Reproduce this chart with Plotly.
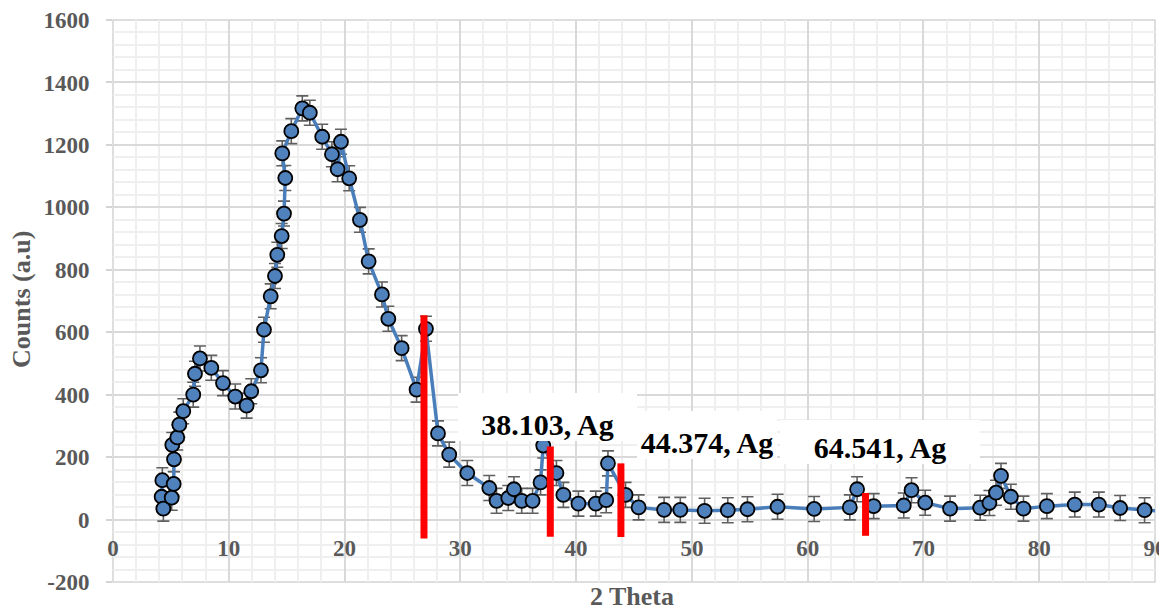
import plotly.graph_objects as go

# ---- data ----
two_theta = [4.26, 4.20, 4.35, 5.07, 5.24, 5.27, 5.12, 5.55, 5.73, 6.07,
             6.93, 7.08, 7.51, 8.49, 9.50, 10.56, 11.54, 11.94, 12.78, 13.04,
             13.62, 13.99, 14.19, 14.57, 14.77, 14.88, 14.62, 15.40, 16.35, 17.00,
             18.07, 18.91, 19.40, 19.69, 20.40, 21.33, 22.08, 23.23, 23.78, 24.93,
             26.22, 27.03, 28.07, 29.04, 30.60, 32.50, 33.13, 34.14, 34.63, 35.30,
             36.24, 36.93, 37.16, 38.30, 38.90, 40.20, 41.70, 42.60, 42.75, 44.27,
             45.40, 47.60, 49.00, 51.10, 53.10, 54.80, 57.40, 60.56, 63.64, 64.27,
             65.70, 68.30, 68.97, 70.15, 72.30, 74.90, 75.70, 76.27, 76.70, 77.55,
             78.64, 80.66, 83.07, 85.15, 86.99, 89.10, 91.50]
counts = [126, 73, 35, 70, 114, 193, 239, 263, 304, 347,
          400, 467, 516, 486, 437, 394, 365, 411, 478, 608,
          715, 780, 848, 908, 980, 1094, 1173, 1244, 1317, 1303,
          1226, 1170, 1122, 1210, 1093, 960, 827, 721, 643, 549,
          416, 611, 276, 208, 149, 101, 60, 69, 97, 60,
          60, 119, 237, 149, 79, 51, 51, 62, 180, 79,
          39, 31, 31, 28, 30, 33, 41, 34, 39, 97,
          43, 45, 94, 54, 35, 38, 53, 86, 140, 73,
          35, 43, 48, 48, 37, 30, 24]
error_counts = 40

peak_x = [26.86, 37.77, 43.87, 65.0]
peak_top = [654, 234, 180, 85]
peak_bottom = [-61, -55, -56, -52]

label_texts = ["38.103, Ag", "44.374, Ag", "64.541, Ag"]
label_x = [37.53, 51.30, 66.25]
label_y = [329.7, 271.9, 247.0]
label_w = [179, 140, 200]
label_h = [48, 48, 44]

y_ticks = list(range(-200, 1601, 200))
x_ticks = list(range(0, 91, 10))

SERIF = "Times New Roman, Liberation Serif, serif"
GRAY = "#595959"

fig = go.Figure()

fig.add_trace(go.Scatter(
    x=two_theta, y=counts, mode="lines+markers",
    line=dict(color="#4a7ebb", width=3.5),
    marker=dict(symbol="circle", size=14, color="#4f81bd",
                line=dict(color="black", width=1.8)),
    error_y=dict(type="constant", value=error_counts, color="#606060",
                 thickness=1.6, width=6),
    showlegend=False, hoverinfo="x+y"))

bx, by = [], []
for xv, t, b in zip(peak_x, peak_top, peak_bottom):
    bx += [xv, xv, None]
    by += [t, b, None]
fig.add_trace(go.Scatter(x=bx, y=by, mode="lines",
                         line=dict(color="#ff0000", width=7),
                         showlegend=False, hoverinfo="skip"))

annotations = []
for t, xv, yv, w, h in zip(label_texts, label_x, label_y, label_w, label_h):
    annotations.append(dict(
        text=t, x=xv, y=yv, xref="x", yref="y", showarrow=False,
        width=w, height=h, bgcolor="white", borderpad=0, borderwidth=0,
        valign="bottom", align="center",
        font=dict(family=SERIF, size=30, color="black", weight="bold")))

annotations.append(dict(
    text="<b>Counts (a.u)</b>", x=-0.0873, y=0.502, xref="paper", yref="paper",
    showarrow=False, textangle=-90, xanchor="center", yanchor="middle",
    font=dict(family=SERIF, size=26, color=GRAY)))
annotations.append(dict(
    text="<b>2 Theta</b>", x=0.498, y=-0.026, xref="paper", yref="paper",
    showarrow=False, xanchor="center", yanchor="middle",
    font=dict(family=SERIF, size=26, color=GRAY)))

# page body has an 8px margin, so the figure is sized/offset to compensate
fig.update_layout(
    width=1159, height=603,
    margin=dict(l=105, r=12, t=12, b=29, autoexpand=False),
    paper_bgcolor="white", plot_bgcolor="white",
    annotations=annotations,
    shapes=[dict(type="rect", xref="paper", yref="paper", x0=0, x1=1, y0=0, y1=1,
                 line=dict(color="#d4d4d4", width=1.5), layer="below")],
    xaxis=dict(range=[0, 90], tickvals=x_ticks, ticktext=[str(v) for v in x_ticks],
               automargin=False, ticklabeloverflow="allow",
               showgrid=True, gridcolor="#d9d9d9", gridwidth=1.5,
               minor=dict(dtick=2, showgrid=True, gridcolor="#efefef", gridwidth=1.5),
               zeroline=False, showline=False, ticks="",
               anchor="free", position=200 / 1800, ticklabelstandoff=12,
               tickfont=dict(family=SERIF, size=23, color=GRAY, weight="bold")),
    yaxis=dict(range=[-200, 1600], tickvals=y_ticks, ticktext=[str(v) for v in y_ticks],
               automargin=False,
               showgrid=True, gridcolor="#d9d9d9", gridwidth=1.5,
               minor=dict(dtick=40, showgrid=True, gridcolor="#efefef", gridwidth=1.5),
               zeroline=False, showline=False, ticks="outside", ticklen=6,
               tickcolor="#d4d4d4", tickwidth=1.5, ticklabelstandoff=12,
               tickfont=dict(family=SERIF, size=23, color=GRAY, weight="bold")),
)

fig.write_html("out.html")
